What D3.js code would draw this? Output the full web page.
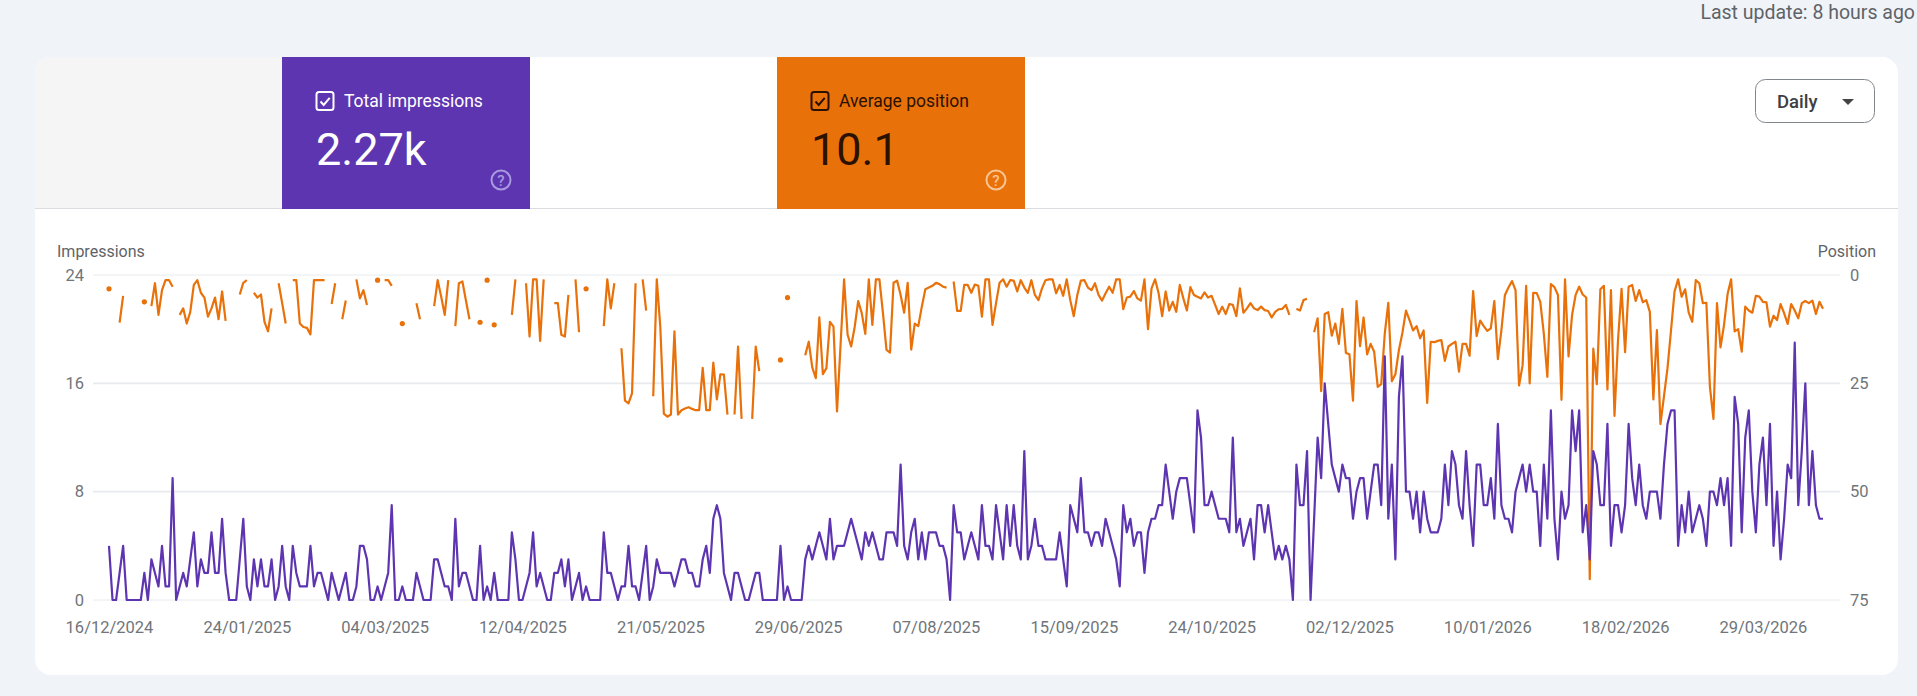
<!DOCTYPE html>
<html>
<head>
<meta charset="utf-8">
<script src="https://cdn.jsdelivr.net/npm/d3@7"></script>
<style>
  html, body { margin: 0; padding: 0; background: #f0f4f9; overflow: hidden; }
  svg { display: block; font-family: Roboto, sans-serif; }
  .axis text { font-size: 16.5px; fill: #70757a; font-family: Roboto, sans-serif; }
  .axis .domain { display: none; }
</style>
</head>
<body>
<svg id="chart" width="1917" height="696"></svg>
<script>
const startDate = '2024-12-16';
const dateTicks = ['16/12/2024', '24/01/2025', '04/03/2025', '12/04/2025', '21/05/2025', '29/06/2025', '07/08/2025',
  '15/09/2025', '24/10/2025', '02/12/2025', '10/01/2026', '18/02/2026', '29/03/2026'];
const impressionTicks = [0, 8, 16, 24];
const positionTicks = [0, 25, 50, 75];

// one value per day from startDate
const impressions = [
  4,0,0,2,4,0,0,0,0,0, 2,0,3,2,1,4,1,1,9,0, 1,2,1,3,5,1,3,2,2,5, 2,2,6,2,0,0,0,3,6,1,
  0,3,1,3,1,1,3,0,1,4, 1,0,4,2,1,1,1,4,1,2, 2,1,0,2,1,0,1,2,0,0, 1,4,4,3,0,0,1,0,1,2,
  7,0,0,1,0,0,0,2,1,0, 0,0,3,3,2,1,1,0,6,1, 2,2,1,0,0,4,0,1,0,2, 0,0,0,0,5,3,0,0,1,2,
  5,1,2,1,0,0,2,2,3,1, 3,0,1,2,0,1,0,0,0,0, 5,2,2,1,0,1,1,4,1,1, 0,2,4,0,1,3,2,2,2,2,
  1,2,3,3,2,2,1,1,3,4, 2,6,7,6,2,1,0,2,2,1, 0,0,1,2,2,0,0,0,0,0, 4,0,1,0,0,0,0,3,4,3,
  4,5,4,3,6,3,4,4,4,5, 6,5,4,3,5,4,5,4,3,3, 5,5,5,4,10,4,3,5,6,3, 5,3,5,5,5,4,4,3,0,7,
  5,5,3,4,5,4,3,7,4,4, 3,7,5,3,7,4,7,4,3,11, 3,4,6,4,4,3,3,3,3,5, 3,1,7,6,5,9,5,5,4,5,
  5,4,6,5,4,3,1,7,5,6, 4,5,5,2,5,6,6,7,7,10, 8,6,8,9,9,9,7,5,14,12, 7,7,8,7,6,6,6,5,12,5,
  6,4,5,6,3,7,7,5,7,5, 3,4,3,4,3,0,10,7,7,11, 0,6,12,9,16,13,10,9,8,10, 9,9,6,8,9,9,6,8,10,10,
  7,18,6,10,3,15,18,8,8,6, 8,5,8,6,5,5,5,6,10,7, 11,10,7,6,11,7,4,10,10,7, 7,9,6,13,7,6,6,5,8,9,
  10,8,10,8,8,4,10,6,14,6, 3,8,6,7,14,11,14,5,7,3, 11,10,7,7,13,4,7,7,5,7, 13,9,7,10,7,6,8,8,8,6,
  10,13,14,14,4,7,5,8,5,6, 7,6,4,8,8,7,9,7,9,4, 15,13,5,12,14,8,5,10,12,7, 13,4,8,3,6,10,9,19,7,11,
  16,7,11,7,6,6
];

// null on days without impressions
const n = null;
const positions = [
  3.2,n,n,11,4.8,n,n,n,n,n, 6.2,n,7.2,1.9,9.2,3.5,1.2,1.2,2.7,n,
  9.2,7.7,11.2,8.5,2.3,1.2,4.1,5.2,9.6,7.7, 5.2,10.2,3.8,10.6,n,n,n,4.5,1.8,1.2,
  n,4.1,5.2,4.5,10.8,13,7.7,n,1.9,6.5, 11.2,n,1.2,1.2,11.2,12,12.2,13.7,1.2,1.2,
  1.2,1.2,n,6.7,1.9,n,10.2,5.9,n,n, 1,5.4,3.5,6.9,n,n,1.2,n,1.2,1.2,
  2.5,n,n,11.2,n,n,n,6.5,10.2,n, n,n,7.2,1.2,5,9.2,1.2,n,11.8,1.9,
  1.5,5.9,10.2,n,n,10.9,n,1.2,n,11.5, n,n,n,n,9.2,1,n,n,1.9,14.2,
  1,1,15.2,1,n,n,6.5,6.5,13.8,14.2, 4.6,n,1,13.2,n,3.2,n,n,n,n,
  11.8,1,7.7,1.9,n,16.9,29,29.6,27.3,1.9, n,1,8.2,n,28,1,12,32,32.7,32.2,
  13,32.2,31.2,30.8,30.5,30.9,31.2,31.2,21.4,31.2, 31.2,20.2,28.7,22.9,23,32.2,n,32.2,16.5,33.2,
  n,n,33.2,16.5,22.2,n,n,n,n,n, 19.6,n,5.2,n,n,n,n,18.5,15.4,21.3,
  23.8,9.8,22.9,21.5,10.8,11.9,31.5,16.2,1,13.8, 16.5,12,6,8.8,13.6,1,11.5,1,1,8.8,
  17.3,17.9,1.8,1.3,4.6,8.7,1.8,17.2,11.2,11.8, 7.3,3.3,2.9,2.5,1.8,2.1,2.7,2.9,n,1.5,
  8.3,8.3,2.3,2.3,4.1,2.2,2.5,9.6,1,1, 11.5,6.5,1.8,1,2.7,1.2,1.3,3.8,1.2,2.9,
  4.1,1.2,4.6,5.8,3.1,1.2,1,1,4.2,2.3, 4.8,1,5.8,9.5,4.6,1.3,1.2,2.9,3.5,1.9,
  4.6,5.9,4.2,2.7,4.1,1,1,7.9,5.2,5, 3.7,5.4,5.9,1,12.5,3.1,1,4.2,9.5,3.8,
  8.2,6.2,8.5,2.3,5.4,8.2,2.8,4.6,5,5.4, 4,5.2,4.8,6.9,9,7.3,9,6.7,6.9,9.5,
  3.1,8.7,7.7,6.5,7.7,8.1,7.3,8.1,8.3,9.8, 8.5,7.9,7.8,6.9,9.2,n,7.8,8.2,5.8,5.5,
  n,13.2,10,26.8,9,8.6,14,11.2,15.9,7.8, 18,18.3,29,6,16.4,9.8,18.3,15.9,17.7,25.8,
  25.2,13.5,6.4,24.5,22.9,17.3,13.3,8.2,10.4,12.8, 11.8,14.6,12.8,29.5,15.4,15.5,15.2,15,19.8,16.5,
  15.9,15.4,22.3,15.9,15.9,18.6,3.7,14.1,10.5,11.8, 12.9,12.3,6,19.4,12.7,4.6,2.9,1.4,3.5,25.5,
  20.8,2.5,25,4.1,4.2,6.2,13.5,23.5,2.1,2.8, 4.6,28.8,1,18.8,9.2,4.6,2.7,4.5,5.2,70.2,
  17,25.2,3.3,2.5,26.4,3.5,32.5,15,3.2,17.8, 2.7,2.3,6,3.5,6.3,5.8,8.5,28.7,12.7,34.4,
  28,21.5,12.7,3.8,1,5,3.3,8.7,10.8,1.2, 1.9,6.5,6.4,25.8,33.2,6.5,16.7,11.5,4.4,1,
  13,12.5,17.7,7.3,8.2,8.7,4.8,5,6.2,6.3, 11.9,9.4,10.4,6.7,8.8,11.3,6.7,8.2,10,6.5,
  6,6.5,5.9,9,6.2,7.8
];

const cfg = {
  purple: '#5e35b1',
  orange: '#e8710a',
  grey: '#70757a',
  gridColor: '#e8eaed',
  plotLeft: 93,
  plotRight: 1840,
  plotTop: 275,
  plotBottom: 600,
  firstX: 109,
  lastX: 1823
};

const parseTick = d3.utcParse('%d/%m/%Y');
const formatTick = d3.utcFormat('%d/%m/%Y');
const day0 = d3.utcParse('%Y-%m-%d')(startDate);
const dates = impressions.map((d, i) => d3.utcDay.offset(day0, i));

const x = d3.scaleUtc().domain([dates[0], dates[dates.length - 1]]).range([cfg.firstX, cfg.lastX]);
const yLeft = d3.scaleLinear().domain([0, 24]).range([cfg.plotBottom, cfg.plotTop]);
const yRight = d3.scaleLinear().domain([0, 75]).range([cfg.plotTop, cfg.plotBottom]);

const svg = d3.select('#chart');

// card
svg.append('clipPath').attr('id', 'cardClip').append('rect')
  .attr('x', 35).attr('y', 57).attr('width', 1863).attr('height', 618).attr('rx', 16);
const card = svg.append('g').attr('clip-path', 'url(#cardClip)');
card.append('rect').attr('x', 35).attr('y', 57).attr('width', 1863).attr('height', 618).attr('fill', '#fff');
card.append('rect').attr('x', 35).attr('y', 57).attr('width', 247).attr('height', 151).attr('fill', '#f5f5f5');
card.append('line').attr('x1', 35).attr('x2', 1898).attr('y1', 208.5).attr('y2', 208.5)
  .attr('stroke', '#dadce0').attr('stroke-width', 1);

// metric tabs
function drawTab(left, fill, ink, helpColor, label, value) {
  const tab = svg.append('g').attr('transform', `translate(${left},57)`);
  tab.append('rect').attr('width', 248).attr('height', 152).attr('fill', fill);
  tab.append('rect').attr('x', 34.5).attr('y', 35).attr('width', 17).attr('height', 18).attr('rx', 2.5)
    .attr('fill', 'none').attr('stroke', ink).attr('stroke-width', 2);
  tab.append('path').attr('d', 'M38.5 44.5l3.2 3.4l6-7').attr('fill', 'none')
    .attr('stroke', ink).attr('stroke-width', 2);
  tab.append('text').attr('x', 62).attr('y', 50).attr('font-size', 17.5).attr('fill', ink).text(label);
  tab.append('text').attr('x', 34).attr('y', 108).attr('font-size', 45).attr('fill', ink).text(value);
  tab.append('circle').attr('cx', 219).attr('cy', 123).attr('r', 9.5)
    .attr('fill', 'none').attr('stroke', helpColor).attr('stroke-width', 2);
  tab.append('text').attr('x', 219).attr('y', 128.5).attr('text-anchor', 'middle')
    .attr('font-size', 15).attr('font-weight', 500).attr('fill', helpColor).text('?');
}
drawTab(282, cfg.purple, '#fff', '#a99be0', 'Total impressions', '2.27k');
drawTab(777, cfg.orange, '#2b1100', '#f8c595', 'Average position', '10.1');

// header bits
svg.append('text').attr('x', 1915).attr('y', 19).attr('text-anchor', 'end')
  .attr('font-size', 19.5).attr('fill', '#5f6368').text('Last update: 8 hours ago');
svg.append('rect').attr('x', 1755.5).attr('y', 79.5).attr('width', 119).attr('height', 43).attr('rx', 10)
  .attr('fill', '#fff').attr('stroke', '#80868b').attr('stroke-width', 1);
svg.append('text').attr('x', 1777).attr('y', 108).attr('font-size', 18.5).attr('font-weight', 500)
  .attr('fill', '#3c4043').text('Daily');
svg.append('path').attr('d', 'M1842 99h12l-6 6z').attr('fill', '#444');

// axis titles
svg.append('text').attr('x', 57).attr('y', 257).attr('font-size', 16).attr('fill', '#5f6368').text('Impressions');
svg.append('text').attr('x', 1876).attr('y', 257).attr('text-anchor', 'end').attr('font-size', 16)
  .attr('fill', '#5f6368').text('Position');

// gridlines
svg.append('g').selectAll('line').data(impressionTicks).enter().append('line')
  .attr('x1', cfg.plotLeft).attr('x2', cfg.plotRight)
  .attr('y1', d => yLeft(d)).attr('y2', d => yLeft(d))
  .attr('stroke', cfg.gridColor)
  .attr('stroke-width', (d, i) => (i === 1 || i === 2 ? 1.6 : 1));

// axes
svg.append('g').attr('class', 'axis').attr('transform', `translate(${cfg.plotLeft},0)`)
  .call(d3.axisLeft(yLeft).tickValues(impressionTicks).tickSize(0).tickPadding(9));
svg.append('g').attr('class', 'axis').attr('transform', `translate(${cfg.plotRight},0)`)
  .call(d3.axisRight(yRight).tickValues(positionTicks).tickSize(0).tickPadding(10));
svg.append('g').attr('class', 'axis').attr('transform', `translate(0,${cfg.plotBottom})`)
  .call(d3.axisBottom(x).tickValues(dateTicks.map(parseTick)).tickFormat(formatTick).tickSize(0).tickPadding(21));

// position line, broken on missing days
const positionLine = d3.line()
  .defined(d => d.value !== null)
  .x(d => x(d.date))
  .y(d => yRight(d.value));
const positionData = positions.map((value, i) => ({ date: dates[i], value }));

svg.append('path').datum(positionData)
  .attr('d', positionLine)
  .attr('fill', 'none')
  .attr('stroke', cfg.orange)
  .attr('stroke-width', 2.2)
  .attr('stroke-linejoin', 'round');

// single days between gaps show as dots
const isolated = positionData.filter((d, i) =>
  d.value !== null &&
  (i === 0 || positions[i - 1] === null) &&
  (i === positions.length - 1 || positions[i + 1] === null));
svg.append('g').selectAll('circle').data(isolated).enter().append('circle')
  .attr('cx', d => x(d.date))
  .attr('cy', d => yRight(d.value))
  .attr('r', 2.6)
  .attr('fill', cfg.orange);

// impressions on top
const impressionLine = d3.line()
  .x((d, i) => x(dates[i]))
  .y(d => yLeft(d));
svg.append('path').datum(impressions)
  .attr('d', impressionLine)
  .attr('fill', 'none')
  .attr('stroke', cfg.purple)
  .attr('stroke-width', 2.2)
  .attr('stroke-linejoin', 'round');

// sanity marker if the two series ever drift apart
if (impressions.length !== positions.length) {
  console.error('series length mismatch', impressions.length, positions.length);
}
</script>
</body>
</html>
